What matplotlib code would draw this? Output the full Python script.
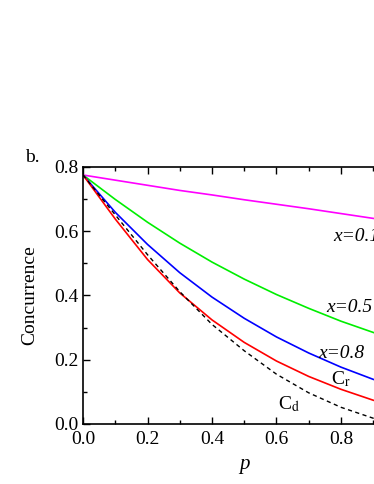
import numpy as np
import matplotlib.pyplot as plt
from matplotlib.ticker import MultipleLocator

plt.rcParams['font.family'] = ['Liberation Serif', 'DejaVu Serif']
plt.rcParams['mathtext.fontset'] = 'stix'

# values
p = [0.0, 0.1, 0.2, 0.3, 0.4, 0.5, 0.6, 0.7, 0.8, 0.9, 1.0]
c_x01 = [0.775, 0.759, 0.743, 0.727, 0.713, 0.698, 0.684, 0.670, 0.655, 0.640, 0.626]
c_x05 = [0.775, 0.699, 0.628, 0.563, 0.504, 0.451, 0.403, 0.360, 0.320, 0.285, 0.252]
c_x08 = [0.775, 0.659, 0.559, 0.471, 0.395, 0.329, 0.271, 0.221, 0.177, 0.139, 0.106]
c_r = [0.775, 0.638, 0.512, 0.408, 0.324, 0.254, 0.196, 0.148, 0.108, 0.074, 0.046]
c_d = [0.775, 0.651, 0.527, 0.412, 0.310, 0.228, 0.155, 0.097, 0.052, 0.018, 0.0]

fig = plt.figure(figsize=(3.74, 4.84), dpi=100)
ax = fig.add_axes([0.222, 0.124, 0.862, 0.531])

ax.plot(p, c_x01, color='#ff00ff', lw=1.2)
ax.plot(p, c_x05, color='#00ee00', lw=1.2)
ax.plot(p, c_x08, color='#0000ff', lw=1.2)
ax.plot(p, c_r, color='#ff0000', lw=1.2)
ax.plot(p, c_d, color='black', lw=1.0, ls=(0, (3, 2.5)))

ax.set_xlim(0, 1.0)
ax.set_ylim(0, 0.8)
ax.xaxis.set_minor_locator(MultipleLocator(0.1))
ax.yaxis.set_minor_locator(MultipleLocator(0.1))
ax.set_xticks([0, 0.2, 0.4, 0.6, 0.8])
ax.set_xticklabels(['0.0', '0.2', '0.4', '0.6', '0.8'])
ax.set_yticks([0, 0.2, 0.4, 0.6, 0.8])
ax.set_yticklabels(['0.0', '0.2', '0.4', '0.6', '0.8'])
ax.tick_params(which='both', direction='in', top=True, right=True, labelsize=14, width=1.0)
ax.tick_params(axis='x', which='major', length=5, pad=5)
ax.tick_params(axis='y', which='major', length=5, pad=3)
ax.tick_params(which='minor', length=3)
for s in ax.spines.values():
    s.set_linewidth(1.2)

ax.set_xlabel('p', fontsize=15, style='italic', labelpad=5)
ax.set_ylabel('Concurrence', fontsize=14, labelpad=12)

fig.text(25 / 374, 1 - 158 / 484, 'b.', fontsize=14, va='center', ha='left')
ax.text(0.775, 0.57, 'x=0.1', fontsize=14, style='italic')
ax.text(0.755, 0.35, 'x=0.5', fontsize=14, style='italic')
ax.text(0.73, 0.205, 'x=0.8', fontsize=14, style='italic')
ax.text(0.77, 0.125, r'C$_{\mathrm{r}}$', fontsize=14)
ax.text(0.605, 0.045, r'C$_{\mathrm{d}}$', fontsize=14)

plt.savefig('out.png', dpi=100)
